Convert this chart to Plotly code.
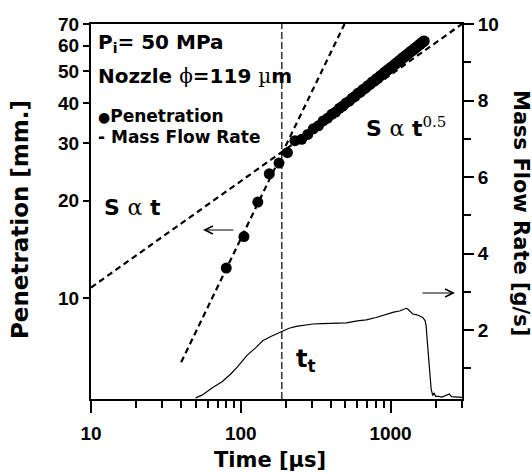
import math
import plotly.graph_objects as go

# ---- data ----
pen_time = [80, 105, 130, 155, 180, 205, 230, 255, 280, 305, 330, 355, 380, 405, 430, 455,
            480, 505, 530, 555, 580, 605, 630, 655, 680, 705, 730, 755, 780, 805, 830, 855,
            880, 905, 930, 955, 980, 1005, 1030, 1055, 1080, 1105, 1130, 1155, 1180, 1205,
            1230, 1255, 1280, 1305, 1330, 1355, 1380, 1405, 1430, 1455, 1480, 1505, 1530,
            1555, 1580, 1605, 1630, 1655, 1680]
pen_len = [12.4, 15.5, 19.8, 24.2, 26.1, 28.1, 30.6, 30.9, 32.0, 33.3, 34.0, 35.2, 35.9, 36.9,
           37.5, 38.5, 39.1, 40.0, 40.5, 41.4, 41.9, 42.8, 43.2, 44.0, 44.4, 45.2, 45.6, 46.4,
           46.7, 47.5, 47.8, 48.5, 48.9, 49.6, 49.9, 50.6, 50.8, 51.5, 51.8, 52.4, 52.7, 53.3,
           53.6, 54.2, 54.4, 55.1, 55.3, 55.9, 56.1, 56.7, 56.9, 57.5, 57.7, 58.2, 58.4, 59.0,
           59.2, 59.7, 59.9, 60.5, 60.6, 61.2, 61.3, 61.9, 62.0]

mfr_time = [50, 55, 60, 65, 75, 85, 95, 110, 125, 140, 160, 187, 210, 235, 270, 303, 350, 400,
            450, 507, 600, 689, 800, 936, 1050, 1150, 1273, 1300, 1350, 1409, 1500, 1642, 1700,
            1729, 1760, 1790, 1820, 1867, 1914, 1950, 2000, 2100, 2200, 2300, 2474, 2550, 2760, 3000]
mfr_rate = [0.23, 0.30, 0.40, 0.50, 0.65, 0.84, 1.04, 1.34, 1.53, 1.72, 1.84, 1.97, 2.05, 2.10,
            2.13, 2.16, 2.17, 2.18, 2.17, 2.19, 2.24, 2.27, 2.33, 2.42, 2.47, 2.50, 2.57, 2.55,
            2.50, 2.42, 2.40, 2.33, 2.25, 2.11, 1.70, 1.35, 1.07, 0.46, 0.29, 0.36, 0.27, 0.27,
            0.25, 0.28, 0.33, 0.26, 0.25, 0.24]

fit_lin_time = [40, 493]        # S ~ t
fit_lin_len = [6.36, 70]
fit_sqrt_time = [10, 3000]      # S ~ t^0.5
fit_sqrt_len = [10.8, 70]
t_transition = 188

x_range = [10, 3000]
y_range = [4.9, 70]
y2_range = [0.2, 10]
x_ticks = [10, 100, 1000]
x_minor = [20, 30, 40, 50, 60, 70, 80, 90, 200, 300, 400, 500, 600, 700, 800, 900, 2000, 3000]
y_ticks = [10, 20, 30, 40, 50, 60, 70]
y2_ticks = [2, 4, 6, 8, 10]
y2_minor = [1, 3, 5, 7, 9]

TICKFONT = dict(family="Liberation Sans, Arial", size=19, color="black", weight="bold")
TXT = "DejaVu Sans"

fig = go.Figure()
dash_style = dict(color="black", width=2.2, dash="6px,4px")
fig.add_trace(go.Scatter(x=fit_sqrt_time, y=fit_sqrt_len, mode="lines", line=dash_style,
                         showlegend=False, hoverinfo="skip"))
fig.add_trace(go.Scatter(x=fit_lin_time, y=fit_lin_len, mode="lines", line=dash_style,
                         showlegend=False, hoverinfo="skip"))
fig.add_trace(go.Scatter(x=[t_transition, t_transition], y=y2_range, mode="lines", yaxis="y2",
                         line=dict(color="black", width=1.2, dash="7px,3px"),
                         showlegend=False, hoverinfo="skip"))
fig.add_trace(go.Scatter(x=pen_time, y=pen_len, mode="markers",
                         marker=dict(color="black", size=11), showlegend=False))
fig.add_trace(go.Scatter(x=mfr_time, y=mfr_rate, mode="lines", yaxis="y2",
                         line=dict(color="black", width=1.2), showlegend=False))

def px2paper(x, y):
    return (x - 91) / 371, (399 - y) / 375

anns = []
def txt(x, y, text, size=20, xanchor="left", angle=0, family=TXT, weight="bold"):
    px, py = px2paper(x, y)
    anns.append(dict(xref="paper", yref="paper", x=px, y=py, text=text, showarrow=False,
                     xanchor=xanchor, yanchor="middle", textangle=angle,
                     font=dict(family=family, size=size, color="black", weight=weight)))

SER = "font-family:DejaVu Serif;font-weight:normal"
txt(96, 43, "P<sub>i</sub>= 50 MPa", 20)
txt(96, 76, f"Nozzle <span style='{SER}'>ϕ</span>=119 <span style='{SER}'>µ</span>m", 20)
txt(96, 116, "<span style='font-size:14px'>●</span>Penetration", 17)
txt(96, 137, "- Mass Flow Rate", 17)
txt(102, 207, f"S <span style='{SER}'>α</span> t", 22)
txt(364, 127, f"S <span style='{SER}'>α</span> t<sup><span style='{SER};font-size:15px'>0.5</span></sup>", 22)
txt(294, 360, "t<sub>t</sub>", 24)
txt(270, 460, "Time [µs]", 21, xanchor="center")
txt(20, 220, "Penetration [mm.]", 23, xanchor="center", angle=-90)
txt(521, 213, "Mass Flow Rate [g/s]", 21, xanchor="center", angle=90)

# arrows
hx, hy = px2paper(203, 230)
anns.append(dict(xref="paper", yref="paper", x=hx, y=hy, ax=32, ay=0, text="",
                 showarrow=True, arrowhead=5, arrowsize=1.6, arrowwidth=1, arrowcolor="black"))
hx, hy = px2paper(455, 293)
anns.append(dict(xref="paper", yref="paper", x=hx, y=hy, ax=-34, ay=0, text="",
                 showarrow=True, arrowhead=5, arrowsize=1.6, arrowwidth=1, arrowcolor="black"))

fig.update_layout(
    width=532, height=474,
    margin=dict(l=91, r=70, t=24, b=75),
    paper_bgcolor="white", plot_bgcolor="white",
    showlegend=False,
    annotations=anns,
    xaxis=dict(type="log", range=[math.log10(v) for v in x_range], tickvals=x_ticks,
               ticktext=[str(v) for v in x_ticks], ticks="outside", ticklen=12, tickwidth=2,
               tickcolor="black", showline=True, linecolor="black", linewidth=2, mirror=True,
               showgrid=False, zeroline=False, tickfont=TICKFONT, ticklabelstandoff=4,
               minor=dict(tickvals=x_minor, ticks="outside", ticklen=7, tickwidth=1.5,
                          tickcolor="black", showgrid=False)),
    yaxis=dict(type="log", range=[math.log10(v) for v in y_range], tickvals=y_ticks,
               ticktext=[str(v) for v in y_ticks], ticks="outside", ticklen=6, tickwidth=2,
               tickcolor="black", showline=True, linecolor="black", linewidth=2,
               showgrid=False, zeroline=False, tickfont=TICKFONT),
    yaxis2=dict(overlaying="y", side="right", range=y2_range, tickvals=y2_ticks,
                ticktext=[str(v) for v in y2_ticks], ticks="outside", ticklen=10, tickwidth=2,
                tickcolor="black", showline=True, linecolor="black", linewidth=2,
                showgrid=False, zeroline=False, tickfont=TICKFONT,
                minor=dict(tickvals=y2_minor, ticks="outside", ticklen=7, tickwidth=1.5,
                           tickcolor="black", showgrid=False)),
)

fig.write_html("out.html")
